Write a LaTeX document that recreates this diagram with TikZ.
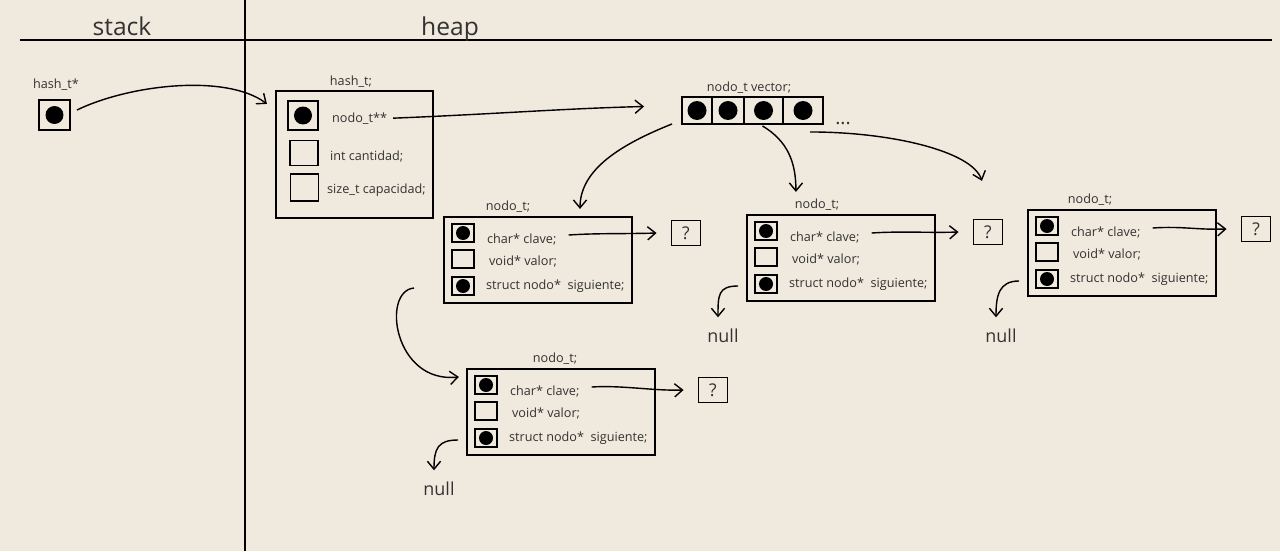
\documentclass[tikz,border=0pt]{standalone}
\usepackage{fontspec}
\setmainfont{Open Sans}
\usetikzlibrary{arrows.meta, calc, positioning}
\definecolor{paper}{RGB}{240,233,221}
\definecolor{ink}{RGB}{50,50,50}

\begin{document}
\begin{tikzpicture}[x=0.02cm, y=-0.02cm,
        cell/.style={draw, line width=1.1pt, inner sep=0, minimum width=0.44cm, minimum height=0.36cm},
        dot/.style={path picture={\fill (path picture bounding box.center) circle (#1);}},
        frame/.style={draw, line width=1.25pt, inner sep=0},
        txt/.style={font=\fontsize{7.2}{8}\selectfont, text=ink, inner sep=1pt},
        big/.style={font=\fontsize{14}{16}\selectfont, text=ink},
        nulltxt/.style={font=\fontsize{10.2}{12}\selectfont, text=ink, inner sep=1pt},
        qbox/.style={draw, line width=1.1pt, inner sep=0, minimum width=0.58cm, minimum height=0.5cm, font=\fontsize{10}{11}\selectfont, text=ink},
        ptr/.style={line width=0.8pt, -{Straight Barb[length=4.5pt, width=7.5pt]}}]
        \fill[paper] (0,0) rectangle (1280,551);
        \useasboundingbox (0,0) rectangle (1280,551);
        % stack | heap
        \draw[line width=1.1pt] (20,40) -- (1272,40);
        \draw[line width=1.1pt] (245,0) -- (245,551);
        \node[big, anchor=base] (stk) at (122,35) {stack};
        \node[big, anchor=base] (hp) at (450,35) {heap};
        % hash_t* en el stack
        \node[txt, anchor=base] (sp-lbl) at (56,88) {hash\_t*};
        \node[cell, dot=0.18cm, minimum width=0.62cm, minimum height=0.6cm] (sp) at (54.5,115) {};
        % hash_t
        \node[txt, anchor=base] (hash-lbl) at (351,85) {hash\_t;};
        \node[frame, minimum width=3.14cm, minimum height=2.54cm] (hash) at (354.5,154.5) {};
        \node[cell, dot=0.18cm, minimum width=0.6cm, minimum height=0.58cm] (hc1) at (303,115.5) {};
        \node[cell, minimum width=0.56cm, minimum height=0.5cm] (hc2) at (304,153) {};
        \node[cell, minimum width=0.56cm, minimum height=0.54cm] (hc3) at (304.5,187.5) {};
        \node[txt, anchor=base west] (hkey) at (330,122) {nodo\_t**};
        \node[txt, anchor=base west] (hcant) at (328,160) {int cantidad;};
        \node[txt, anchor=base west] (hcap) at (325,193) {size\_t capacidad;};
        % vector
        \node[txt, anchor=base] (vec-lbl) at (749,91) {nodo\_t vector;};
        \foreach \i/\a/\b in {1/682/712, 2/712/744, 3/744/783, 4/783/823}
            \node[cell, dot=0.19cm, minimum width={(\b-\a)*0.02cm}, minimum height=0.54cm] (v\i) at ({(\a+\b)/2},110.5) {};
        \node[font=\fontsize{11}{12}\selectfont, text=ink, anchor=base] (dots) at (843,124) {...};
        % nodos
        \foreach \n/\x/\y/\lx/\qx/\qy in {A/444/217/64/242/16, B/747/215/70/241/17, C/1028/210/62/228/19, D/467/369/88/246/21} {
            \node[frame, minimum width=3.76cm, minimum height=1.72cm] (n\n) at (\x+94,\y+43) {};
            \node[txt, anchor=base] (n\n-lbl) at (\x+\lx,\y-7) {nodo\_t;};
            \node[cell, dot=0.14cm] (n\n-key) at (\x+19,\y+16) {};
            \node[cell] (n\n-val) at (\x+19,\y+42) {};
            \node[cell, dot=0.14cm] (n\n-next) at (\x+19,\y+69) {};
            \node[txt, anchor=base west] (n\n-clave) at (\x+41,\y+26) {char* clave;};
            \node[txt, anchor=base west] (n\n-valor) at (\x+43,\y+48) {void* valor;};
            \node[txt, anchor=base west] (n\n-sig) at (\x+40,\y+72) {struct nodo*\ \ siguiente;};
            \node[qbox] (n\n-q) at (\x+\qx,\y+\qy) {?};
            \draw[ptr] ($(n\n-clave.east)+(10,-4)$) .. controls +(30,-2) and +(-30,1) .. ($(n\n-q.west)+(-14,0)$);
        }
        \foreach \n/\a/\b in {B/723/342, C/1001/342, D/439/495} {
            \node[nulltxt, anchor=base] (n\n-null) at (\a,\b) {null};
            \draw[ptr] ($(n\n-next.west)+(-16,2)$) .. controls +(-20,0) and +(0,-22) .. ($(n\n-null.north)+(-5,-9)$);
        }
        % punteros
        \draw[ptr] ($(sp.east)+(6,-5)$) .. controls +(54,-26) and +(-40,-30) .. ($(hash.north west)+(-8,14)$);
        \draw[ptr] ($(hkey.east)+(4,0)$) .. controls +(100,-4) and +(-80,2) .. ($(v1.west)+(-37,-4)$);
        \draw[ptr] ($(v1.south west)+(-9,-1)$) .. controls +(-50,20) and +(0,-40) .. ($(nA.north)+(42,-7)$);
        \draw[ptr] ($(v3.south)+(-1,1)$) .. controls +(25,15) and +(0,-30) .. ($(nB.north west)+(50,-22)$);
        \draw[ptr] ($(v4.south)+(7,7)$) .. controls +(80,0) and +(-10,-30) .. ($(nC.north west)+(-45,-28)$);
        \draw[ptr] ($(nA-next.west)+(-37,2)$) .. controls +(-33,3) and +(-65,7) .. ($(nD.north west)+(-7,9)$);
\end{tikzpicture}
\end{document}
